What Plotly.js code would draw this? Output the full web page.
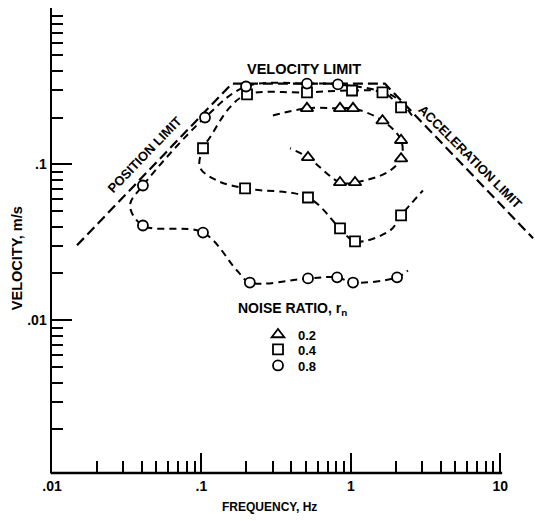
<!DOCTYPE html>
<html>
<head>
<meta charset="utf-8">
<script src="https://cdn.plot.ly/plotly-3.0.1.min.js"></script>
<style>
  html, body { margin: 0; padding: 0; background: #fff; }
  #chart { width: 535px; height: 521px; }
</style>
</head>
<body>
<div id="chart"></div>
<script>
// Operating envelope: position, velocity and acceleration limits
const limitFreq = [0.0147, 0.160, 1.69, 16.6];
const limitVel  = [0.0303, 0.33, 0.33, 0.0336];

// Noise ratio r_n = 0.2 (triangles)
const tri02CurveFreq = [0.301, 0.509, 0.847, 1.035, 1.63, 2.17, 2.17, 1.75, 1.067, 0.847, 0.517, 0.392];
const tri02CurveVel  = [0.206, 0.229, 0.229, 0.229, 0.191, 0.143, 0.109, 0.0889, 0.0767, 0.0767, 0.111, 0.127];
const tri02Freq = [0.509, 0.847, 1.035, 1.63, 2.17, 2.17, 1.067, 0.847, 0.517];
const tri02Vel  = [0.229, 0.229, 0.229, 0.191, 0.143, 0.109, 0.0767, 0.0767, 0.111];

// Noise ratio r_n = 0.4 (squares)
const sq04CurveFreq = [2.17, 1.63, 1.019, 0.509, 0.202, 0.155, 0.114, 0.1025, 0.0978, 0.127, 0.196, 0.517, 0.847, 1.067, 1.83, 2.17, 3.04];
const sq04CurveVel  = [0.232, 0.290, 0.298, 0.290, 0.281, 0.232, 0.149, 0.127, 0.0957, 0.0789, 0.0702, 0.0614, 0.0389, 0.0321, 0.0377, 0.0471, 0.0681];
const sq04Freq = [2.17, 1.63, 1.019, 0.509, 0.202, 0.1025, 0.196, 0.517, 0.847, 1.067, 2.17];
const sq04Vel  = [0.232, 0.290, 0.298, 0.290, 0.281, 0.127, 0.0702, 0.0614, 0.0389, 0.0321, 0.0471];

// Noise ratio r_n = 0.8 (circles)
const ci08CurveFreq = [2.57, 1.89, 0.82, 0.509, 0.199, 0.1057, 0.0406, 0.0333, 0.0406, 0.1025, 0.173, 0.211, 0.517, 0.81, 1.035, 2.04, 2.41];
const ci08CurveVel  = [0.206, 0.277, 0.326, 0.330, 0.316, 0.200, 0.0733, 0.0546, 0.0406, 0.0366, 0.0209, 0.0175, 0.0186, 0.0189, 0.0175, 0.0189, 0.0209];
const ci08Freq = [0.82, 0.509, 0.199, 0.1057, 0.0406, 0.0406, 0.1025, 0.211, 0.517, 0.81, 1.035, 2.04];
const ci08Vel  = [0.326, 0.330, 0.316, 0.200, 0.0733, 0.0406, 0.0366, 0.0175, 0.0186, 0.0189, 0.0175, 0.0189];

// Axis labelling
const xTickVals = [0.01, 0.1, 1, 10];
const xTickText = ['.01', '.1', '1', '10'];
const yTickVals = [0.01, 0.1];
const yTickText = ['.01', '.1'];
const yTopTick = [1];

// minor ticks at 2..9 within each decade
function minorTicks(lo, hi) {
  const out = [];
  for (let d = lo; d < hi; d++) {
    for (let k = 2; k <= 9; k++) out.push(k * Math.pow(10, d));
  }
  return out;
}

const FONT = 'Liberation Sans, Arial, sans-serif';
const boldFont = (s) => ({ family: FONT, size: s, color: '#000', weight: 'bold' });
const curveLine = { color: '#000', width: 2, dash: '7px,5px', shape: 'spline', smoothing: 1 };
const markerLine = { color: '#000', width: 1.8 };

const traces = [
  { x: limitFreq, y: limitVel, mode: 'lines', showlegend: false, hoverinfo: 'skip',
    line: { color: '#000', width: 2.2, dash: '10px,5px' } },
  { x: tri02CurveFreq, y: tri02CurveVel, mode: 'lines', showlegend: false, line: curveLine },
  { x: sq04CurveFreq, y: sq04CurveVel, mode: 'lines', showlegend: false, line: curveLine },
  { x: ci08CurveFreq, y: ci08CurveVel, mode: 'lines', showlegend: false, line: curveLine },
  { x: tri02Freq, y: tri02Vel, mode: 'markers', name: '0.2', legend: 'legend',
    marker: { symbol: 'triangle-up', size: 11, color: '#fff', line: markerLine } },
  { x: sq04Freq, y: sq04Vel, mode: 'markers', name: '0.4', legend: 'legend2',
    marker: { symbol: 'square', size: 10, color: '#fff', line: markerLine } },
  { x: ci08Freq, y: ci08Vel, mode: 'markers', name: '0.8', legend: 'legend3',
    marker: { symbol: 'circle', size: 10, color: '#fff', line: markerLine } }
];

// one legend per noise ratio so the rows sit close together
const legendBox = (top) => ({
  x: 0.4265, y: top, xanchor: 'left', yanchor: 'top',
  bgcolor: 'rgba(0,0,0,0)', borderwidth: 0, font: boldFont(13), itemclick: false
});

const yRange = [-2.978, 0.003];

const layout = {
  width: 535, height: 521,
  margin: { l: 52, r: 0, t: 8, b: 48, pad: 0 },
  paper_bgcolor: '#fff', plot_bgcolor: '#fff',
  font: boldFont(13),
  showlegend: true,
  legend: legendBox(0.33),
  legend2: legendBox(0.2978),
  legend3: legendBox(0.2634),
  xaxis: {
    type: 'log', range: [-2, 1.233], showline: false, showgrid: false, zeroline: false,
    tickmode: 'array', tickvals: xTickVals, ticktext: xTickText,
    ticks: 'inside', ticklen: 20, tickwidth: 2, tickcolor: '#000', ticklabelstandoff: 3,
    tickfont: boldFont(14),
    minor: { tickmode: 'array', tickvals: minorTicks(-2, 1), ticks: 'inside', ticklen: 12, tickwidth: 2, tickcolor: '#000', showgrid: false }
  },
  yaxis: {
    type: 'log', range: yRange, showline: true, linewidth: 2.5, linecolor: '#000',
    showgrid: false, zeroline: false,
    tickmode: 'array', tickvals: yTickVals, ticktext: yTickText,
    ticks: 'inside', ticklen: 20, tickwidth: 2, tickcolor: '#000',
    tickfont: boldFont(14),
    minor: { tickmode: 'array', tickvals: minorTicks(-3, 0), ticks: 'inside', ticklen: 11, tickwidth: 2, tickcolor: '#000', showgrid: false }
  },
  // unlabelled long tick at the top of the velocity scale
  yaxis2: {
    type: 'log', range: yRange, overlaying: 'y', side: 'left', anchor: 'x',
    showline: false, showgrid: false, zeroline: false, showticklabels: false,
    tickmode: 'array', tickvals: yTopTick,
    ticks: 'inside', ticklen: 20, tickwidth: 2, tickcolor: '#000'
  },
  shapes: [
    // frequency axis baseline, ending just past the 10 Hz tick
    { type: 'line', xref: 'paper', yref: 'paper', x0: -0.003, x1: 0.932, y0: 0, y1: 0,
      line: { color: '#000', width: 2.5 } }
  ],
  annotations: [
    { text: 'VELOCITY, m/s', xref: 'paper', yref: 'paper', x: -0.0725, y: 0.462,
      textangle: -90, showarrow: false, xanchor: 'center', yanchor: 'middle', font: boldFont(14.5) },
    { text: 'FREQUENCY, Hz', xref: 'paper', yref: 'paper', x: 0.451, y: -0.073,
      showarrow: false, xanchor: 'center', yanchor: 'middle', font: boldFont(12) },
    { text: 'VELOCITY LIMIT', xref: 'paper', yref: 'paper', x: 0.522, y: 0.869,
      showarrow: false, xanchor: 'center', yanchor: 'middle', font: boldFont(14.5) },
    { text: 'POSITION LIMIT', xref: 'paper', yref: 'paper', x: 0.1925, y: 0.684, textangle: -46,
      showarrow: false, xanchor: 'center', yanchor: 'middle', font: boldFont(13) },
    { text: 'ACCELERATION LIMIT', xref: 'paper', yref: 'paper', x: 0.865, y: 0.680, textangle: 45,
      showarrow: false, xanchor: 'center', yanchor: 'middle', font: boldFont(13) },
    { text: 'NOISE RATIO, r<sub>n</sub>', xref: 'paper', yref: 'paper', x: 0.497, y: 0.353,
      showarrow: false, xanchor: 'center', yanchor: 'middle', font: boldFont(14) }
  ]
};

Plotly.newPlot('chart', traces, layout, { staticPlot: true, displayModeBar: false });
</script>
</body>
</html>
